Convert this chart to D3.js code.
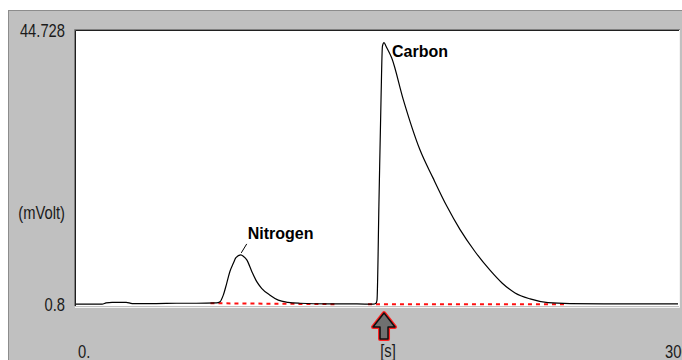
<!DOCTYPE html>
<html>
<head>
<meta charset="utf-8">
<script src="https://cdn.jsdelivr.net/npm/d3@7"></script>
<style>
  html, body { margin: 0; padding: 0; background: #ffffff; }
  svg { display: block; }
</style>
</head>
<body>
<div id="chart"></div>
<script>
// detector trace, time in seconds and signal in mV
const timeS = [
  0, 13, 15, 18, 25, 28, 40, 50, 60, 70,
  71.8, 73.4, 75.1, 76.7, 78.4, 79.7, 82.1, 83.5, 85.1, 87.6,
  90.0, 92.5, 96.7, 100.8, 105.6, 111.6, 125, 140, 148.0, 149.5,
  150.0, 151.0, 152.0, 152.7, 153.5, 154.5, 157.3, 163.1, 171.4, 177.9,
  184.9, 191.4, 198.8, 206.3, 212.3, 218.8, 226.3, 235.2, 246.2, 270, 300
]
const signalMv = [
  0.85, 0.85, 1.05, 1.15, 1.15, 0.95, 0.95, 1.0, 1.0, 1.05,
  1.25, 2.3, 4.2, 6.1, 7.4, 8.3, 8.75, 8.5, 7.95, 6.1,
  4.5, 3.4, 2.3, 1.5, 1.15, 1.0, 0.9, 0.9, 0.85, 1.0,
  1.5, 17.6, 33.6, 42.2, 42.8, 42.2, 40.35, 33.65, 25.6, 21.1,
  16.5, 12.8, 9.3, 6.3, 4.25, 2.65, 1.7, 1.1, 0.95, 0.9, 0.9
]

const yTickValues = [44.728, 0.8]
const yTickLabels = ['44.728', '0.8']
const xTickValues = [0, 300]
const xTickLabels = ['0.', '300']
const xUnitLabel = '[s]'
const yUnitLabel = '(mVolt)'

const peakNames = ['Nitrogen', 'Carbon']
const peakTimes = [82.1, 153.5]
const peakHeights = [8.75, 42.8]

// integration baselines (red dashed)
const baseStartTimes = [67, 145.5]
const baseEndTimes = [130, 245]
const baseStartLevels = [1.0, 0.85]
const baseEndLevels = [0.85, 0.85]

const markerTime = 153.5

const width = 682
const height = 360
const plotBox = { left: 76, right: 678, top: 31, bottom: 305 }
const labelFont = '"Liberation Sans", Arial, sans-serif'
const narrowScale = 0.82

const svg = d3.select('#chart')
  .append('svg')
  .attr('width', width)
  .attr('height', height)

// grey window panel
svg.append('rect')
  .attr('x', 8.5)
  .attr('y', 10.5)
  .attr('width', width - 8)
  .attr('height', height - 10)
  .attr('fill', '#c0c0c0')
  .attr('stroke', '#8c8c8c')

// plot area, sunken frame
svg.append('rect')
  .attr('x', plotBox.left)
  .attr('y', plotBox.top)
  .attr('width', plotBox.right - plotBox.left + 1)
  .attr('height', plotBox.bottom - plotBox.top + 1)
  .attr('fill', '#ffffff')

const frame = svg.append('g')
frame.append('path')
  .attr('d', `M${plotBox.left - 1.5},${plotBox.bottom + 1}V${plotBox.top - 1.5}H${plotBox.right + 2}`)
  .attr('fill', 'none')
  .attr('stroke', '#808080')
frame.append('path')
  .attr('d', `M${plotBox.left - 0.5},${plotBox.bottom + 1}V${plotBox.top - 0.5}H${plotBox.right + 1}`)
  .attr('fill', 'none')
  .attr('stroke', '#202020')
frame.append('path')
  .attr('d', `M${plotBox.left - 1},${plotBox.bottom + 2.5}H${plotBox.right + 1.5}V${plotBox.top - 1}`)
  .attr('fill', 'none')
  .attr('stroke', '#f4f4f4')

const x = d3.scaleLinear().domain([0, 300]).range([plotBox.left, plotBox.right])
const y = d3.scaleLinear().domain([0.8, 44.728]).range([304.5, 30.5])

const trace = timeS.map((t, i) => ({ t, v: signalMv[i] }))

// red dashed integration baselines
baseStartTimes.forEach((t0, i) => {
  svg.append('line')
    .attr('x1', x(t0))
    .attr('x2', x(baseEndTimes[i]))
    .attr('y1', y(baseStartLevels[i]))
    .attr('y2', y(baseEndLevels[i]))
    .attr('stroke', '#ff1010')
    .attr('stroke-width', 2)
    .attr('stroke-dasharray', '4,4')
})

const line = d3.line()
  .x((d) => x(d.t))
  .y((d) => y(d.v))
  .curve(d3.curveMonotoneX)

svg.append('path')
  .datum(trace)
  .attr('d', line)
  .attr('fill', 'none')
  .attr('stroke', '#000000')
  .attr('stroke-width', 1.2)
  .attr('stroke-linejoin', 'round')

// peak names
svg.append('line')
  .attr('x1', x(peakTimes[0]) + 0.5)
  .attr('y1', y(peakHeights[0]) - 2)
  .attr('x2', x(peakTimes[0]) + 6)
  .attr('y2', y(peakHeights[0]) - 11)
  .attr('stroke', '#000000')
  .attr('stroke-width', 1)

svg.append('text')
  .attr('x', x(peakTimes[0]) + 7)
  .attr('y', y(peakHeights[0]) - 16)
  .attr('font-family', labelFont)
  .attr('font-weight', 'bold')
  .attr('font-size', 16)
  .attr('fill', '#000000')
  .text(peakNames[0])

svg.append('text')
  .attr('x', x(peakTimes[1]) + 8)
  .attr('y', y(peakHeights[1]) + 14)
  .attr('font-family', labelFont)
  .attr('font-weight', 'bold')
  .attr('font-size', 16)
  .attr('fill', '#000000')
  .text(peakNames[1])

// narrow axis text
const narrowText = (tx, ty, anchor, str) => {
  svg.append('text')
    .attr('transform', `translate(${tx},${ty}) scale(${narrowScale},1)`)
    .attr('text-anchor', anchor)
    .attr('font-family', labelFont)
    .attr('font-size', 18)
    .attr('fill', '#1a1a1a')
    .text(str)
}

yTickValues.forEach((v, i) => {
  narrowText(65, y(v) + 6, 'end', yTickLabels[i])
})
narrowText(65, 219, 'end', yUnitLabel)

narrowText(x(xTickValues[0]) + 2, 358, 'start', xTickLabels[0])
narrowText(x(xTickValues[1]) - 13, 358, 'start', xTickLabels[1])
narrowText((plotBox.left + plotBox.right) / 2 + 11, 357, 'middle', xUnitLabel)

// cursor arrow under carbon start
const ax = x(markerTime)
const arrowPath = `M${ax},313 L${ax + 11},327 L${ax + 4},327 L${ax + 4},339 L${ax - 4},339 L${ax - 4},327 L${ax - 11},327 Z`
svg.append('path')
  .attr('d', arrowPath)
  .attr('fill', 'none')
  .attr('stroke', '#ff2020')
  .attr('stroke-width', 4)
  .attr('stroke-linejoin', 'round')
svg.append('path')
  .attr('d', arrowPath)
  .attr('fill', '#707070')
  .attr('stroke', '#101010')
  .attr('stroke-width', 1.5)
  .attr('stroke-linejoin', 'round')
</script>
</body>
</html>
